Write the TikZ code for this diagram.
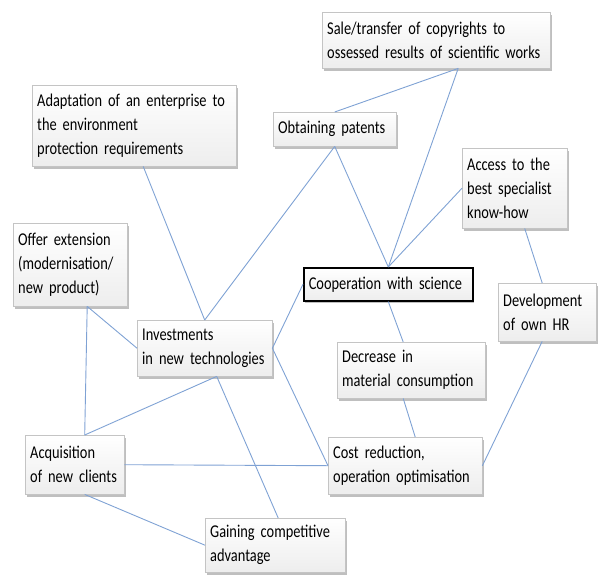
\documentclass[tikz,border=0pt]{standalone}
\usepackage{fontspec}
\setmainfont[FakeStretch=0.8]{Carlito}
\usetikzlibrary{shadows}
\definecolor{sciBlue}{HTML}{7FA2D4}
\definecolor{sciEdge}{HTML}{C4C4C4}

\begin{document}
\begin{tikzpicture}[x=1pt,y=-1pt,
  bx/.style={draw=sciEdge,top color=white,bottom color=black!7,anchor=north west,align=left,
    text width=#1,inner xsep=5pt,inner ysep=2pt,font=\fontsize{18}{24}\selectfont,
    execute at begin node={\hyphenpenalty=10000\exhyphenpenalty=10000},
    drop shadow={shadow xshift=1.5pt,shadow yshift=-2.5pt,opacity=.5}},
  ln/.style={draw=sciBlue,line width=0.9pt}]
  \useasboundingbox (0,0) rectangle (600,574);
  \node[bx=218pt,minimum height=56pt] (sale) at (322,12) {Sale/transfer of copyrights to\\ossessed results of scientific works};
  \node[bx=194pt,minimum height=81pt] (adapt) at (32,85) {Adaptation of an enterprise to\\the environment\\protection requirements};
  \node[bx=113pt,minimum height=34pt] (pat) at (273,112) {Obtaining patents};
  \node[bx=95pt,minimum height=80pt] (acc) at (462,148) {Access to the\\best specialist\\know-how};
  \node[bx=104pt,minimum height=83pt] (offer) at (13,223) {Offer extension\\(modernisation/\\new product)};
  \node[bx=159pt,minimum height=33pt,draw=black,line width=1.6pt] (coop) at (303,267) {Cooperation with science};
  \node[bx=88pt,minimum height=58pt] (dev) at (498,283) {Development\\of own HR};
  \node[bx=125pt,minimum height=56pt] (inv) at (137,320) {Investments\\in new technologies};
  \node[bx=138pt,minimum height=56pt] (decr) at (337,342) {Decrease in\\material consumption};
  \node[bx=89pt,minimum height=59pt] (acq) at (25,435) {Acquisition\\of new clients};
  \node[bx=144pt,minimum height=57pt] (cost) at (328,437) {Cost reduction,\\operation optimisation};
  \node[bx=130pt,minimum height=54pt] (gain) at (205,518) {Gaining competitive\\advantage};
  % links
  \draw[ln] ([xshift=22pt]sale.south) -- (pat.north);
  \draw[ln] ([xshift=22pt]sale.south) -- (coop.north);
  \draw[ln] (pat.south) -- (coop.north);
  \draw[ln] (pat.south) -- (inv.north);
  \draw[ln] (acc.west) -- (coop.north);
  \draw[ln] ([xshift=10pt]acc.south) -- ([xshift=-5pt]dev.north);
  \draw[ln] ([xshift=-5pt]dev.south) -- (cost.east);
  \draw[ln] ([xshift=9pt]adapt.south) -- (inv.north);
  \draw[ln] ([xshift=17pt]offer.south) -- (inv.west);
  \draw[ln] ([xshift=17pt]offer.south) -- ([xshift=10pt]acq.north);
  \draw[ln] (inv.east) -- (coop.west);
  \draw[ln] (inv.east) -- (cost.west);
  \draw[ln] ([xshift=12pt]inv.south) -- ([xshift=10pt]acq.north);
  \draw[ln] ([xshift=12pt]inv.south) -- ([xshift=3pt]gain.north);
  \draw[ln] (coop.south) -- ([xshift=-8pt]decr.north);
  \draw[ln] ([xshift=-8pt]decr.south) -- ([xshift=10pt]cost.north);
  \draw[ln] (acq.east) -- (cost.west);
  \draw[ln] ([xshift=10pt]acq.south) -- (gain.west);
\end{tikzpicture}
\end{document}
